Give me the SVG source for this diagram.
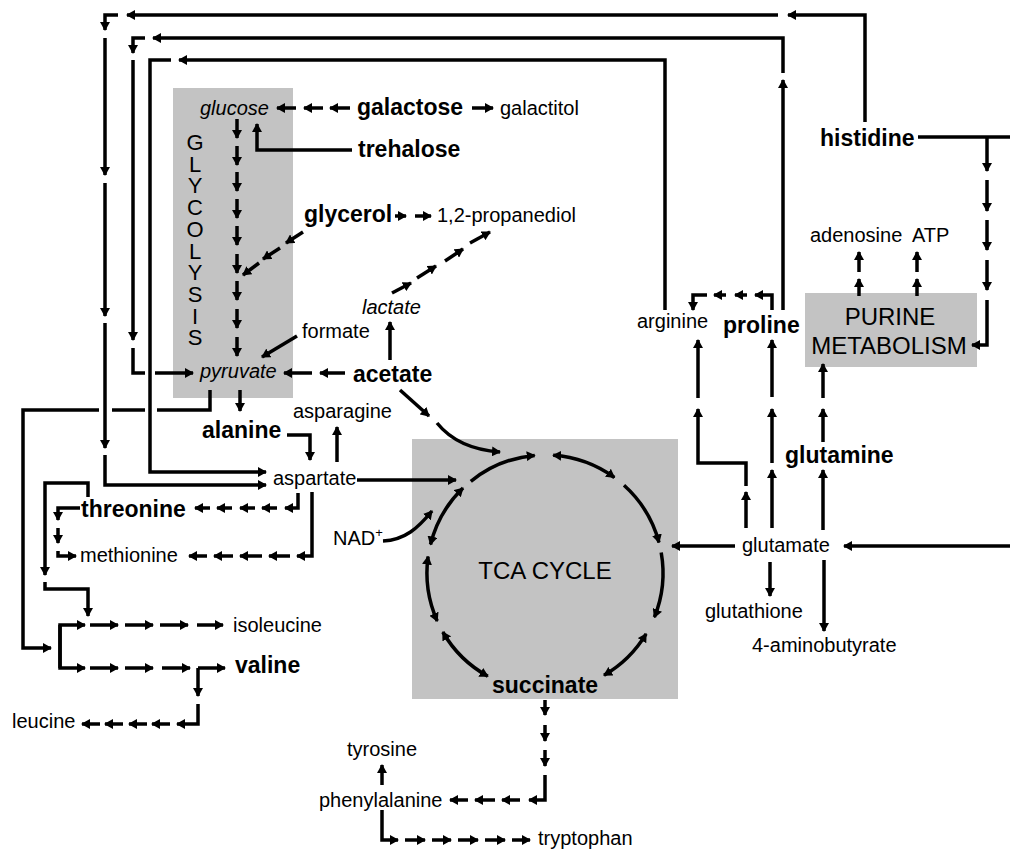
<svg xmlns="http://www.w3.org/2000/svg" width="1010" height="851" viewBox="0 0 1010 851">
<style>
.c{stroke:#000;stroke-width:3.5;fill:none}
.a{marker-end:url(#ah)}
.d{marker-start:url(#ah);marker-end:url(#ah)}
.box{fill:#c3c3c3}
text{font-family:"Liberation Sans",Arial,sans-serif;font-size:20px;fill:#000}
.b{font-weight:bold;font-size:23px}
.i{font-style:italic}
.L{font-size:24px}
.m{text-anchor:middle}
</style>
<defs>
<marker id="ah" viewBox="0 0 9 10" refX="8" refY="5" markerWidth="9" markerHeight="10" markerUnits="userSpaceOnUse" orient="auto-start-reverse"><path d="M0,0 L9,5 L0,10 z" fill="#000"/></marker>
</defs>
<rect width="1010" height="851" fill="#fff"/>
<g id="glycolysis"><rect class="box" x="173" y="88" width="120" height="310"/>
<text class="m" x="195" y="150" font-size="22" style="font-size:22px"><tspan x="195">G</tspan><tspan x="195" dy="21.7">L</tspan><tspan x="195" dy="21.7">Y</tspan><tspan x="195" dy="21.7">C</tspan><tspan x="195" dy="21.7">O</tspan><tspan x="195" dy="21.7">L</tspan><tspan x="195" dy="21.7">Y</tspan><tspan x="195" dy="21.7">S</tspan><tspan x="195" dy="21.7">I</tspan><tspan x="195" dy="21.7">S</tspan></text></g>
<g id="tca"><rect class="box" x="412" y="439" width="266" height="260"/><text class="L m" x="545" y="579">TCA CYCLE</text></g>
<g id="purine"><rect class="box" x="805" y="293" width="172" height="74"/><text class="L m" x="890" y="325">PURINE</text><text class="L m" x="889" y="354">METABOLISM</text></g>
<g id="connectors" class="c">
<!-- top loops -->
<path class="a" d="M865,122 V15 H788"/>
<path class="a" d="M778,15 H127"/>
<path class="a" d="M118,15 H105 V30"/>
<path class="a" d="M105,38 V175"/>
<path class="a" d="M105,183 V316"/>
<path class="a" d="M105,323 V448"/>
<path class="a" d="M105,455 V485 H266"/>
<path class="a" d="M783,310 V80"/>
<path class="a" d="M783,73 V38 H153"/>
<path class="a" d="M145,38 H133 V53"/>
<path class="a" d="M133,60 V340"/>
<path d="M133,348 V373 H145"/>
<path class="a" d="M155,373 H193"/>
<path class="a" d="M665,310 V60 H179"/>
<path class="a" d="M171,60 H150 V472 H266"/>
<path d="M210,390 V410 H157"/>
<path d="M145,410 H112"/>
<path class="a" d="M99,410 H23 V648 H51"/>
<!-- glycolysis -->
<path class="a" d="M237,119 V138"/>
<path class="a" d="M237,146 V165"/>
<path class="a" d="M237,172 V191"/>
<path class="a" d="M237,199 V218"/>
<path class="a" d="M237,226 V245"/>
<path class="a" d="M237,254 V273"/>
<path class="a" d="M237,281 V300"/>
<path class="a" d="M237,309 V328"/>
<path class="a" d="M237,337 V356"/>
<path class="a" d="M296,108 H277"/>
<path class="a" d="M323,108 H304"/>
<path class="a" d="M350,108 H330"/>
<path class="a" d="M472,108 H493"/>
<path class="a" d="M352,150 H257 V124"/>
<path class="a" d="M303,232 L286,243"/>
<path class="a" d="M280,248 L263,259"/>
<path class="a" d="M259,263 L243,275"/>
<path class="a" d="M395,216 H406"/>
<path class="a" d="M415,216 H431"/>
<path class="a" d="M392,293 L411,283"/>
<path class="a" d="M417,278 L436,266"/>
<path class="a" d="M445,261 L463,249"/>
<path class="a" d="M470,243 L490,232"/>
<path class="a" d="M390,360 V322"/>
<path class="a" d="M297,336 L262,357"/>
<path class="a" d="M312,373 H284"/>
<path class="a" d="M345,373 H320"/>
<path class="a" d="M240,390 V411"/>
<path class="a" d="M287,435 H310 V460"/>
<path class="a" d="M337,462 V427"/>
<path class="a" d="M357,480 H456"/>
<path class="a" d="M400,390 L429,416"/>
<path class="a" d="M437,423 Q458,449 500,452"/>
<path class="a" d="M383,541 C405,540 418,528 432,511"/>
<!-- TCA cycle -->
<path class="a" d="M470.8,481.3 A118,118 0 0 1 534.7,455.4"/>
<path class="d" d="M553.2,455.3 A118,118 0 0 1 614.4,477.5"/>
<path class="a" d="M624,485.3 A118,118 0 0 1 659,542.5"/>
<path class="a" d="M661.2,552.5 A118,118 0 0 1 654.4,617.2"/>
<path class="d" d="M646.1,633.8 A118,118 0 0 1 604,675.2"/>
<path class="d" d="M487.8,676.2 A118,118 0 0 1 442.8,632"/>
<path class="d" d="M437.2,621 A118,118 0 0 1 428.1,556.6"/>
<path class="d" d="M430.5,544.5 A118,118 0 0 1 463,488.1"/>
<!-- aspartate family -->
<path class="a" d="M298,493 V508 H285"/>
<path class="a" d="M277,508 H262"/>
<path class="a" d="M255,508 H240"/>
<path class="a" d="M232,508 H217"/>
<path class="a" d="M210,508 H195"/>
<path class="a" d="M312,492 V556 H297"/>
<path class="a" d="M290,556 H269"/>
<path class="a" d="M262,556 H240"/>
<path class="a" d="M233,556 H214"/>
<path class="a" d="M207,556 H189"/>
<path class="a" d="M80,508 H58 V520"/>
<path class="a" d="M58,528 V543"/>
<path class="a" d="M58,551 V556 H76"/>
<path class="a" d="M88,497 V483 H45 V575"/>
<path class="a" d="M45,582 V589 H88 V616"/>
<path class="a" d="M60,668 V625 H85"/>
<path class="a" d="M90,625 H118"/>
<path class="a" d="M125,625 H153"/>
<path class="a" d="M160,625 H188"/>
<path class="a" d="M197,625 H223"/>
<path class="a" d="M60,625 V668 H85"/>
<path class="a" d="M90,668 H118"/>
<path class="a" d="M125,668 H153"/>
<path class="a" d="M162,668 H190"/>
<path class="a" d="M198,668 H225"/>
<path class="a" d="M198,668 V696"/>
<path class="a" d="M198,704 V724 H177"/>
<path class="a" d="M170,724 H152"/>
<path class="a" d="M147,724 H129"/>
<path class="a" d="M123,724 H105"/>
<path class="a" d="M100,724 H82"/>
<!-- succinate -->
<path class="a" d="M545,700 V715"/>
<path class="a" d="M545,725 V741"/>
<path class="a" d="M545,750 V766"/>
<path class="a" d="M545,775 V800 H529"/>
<path class="a" d="M520,800 H502"/>
<path class="a" d="M495,800 H475"/>
<path class="a" d="M468,800 H450"/>
<path class="a" d="M382,785 V765"/>
<path class="a" d="M382,810 V840 H398"/>
<path class="a" d="M405,840 H425"/>
<path class="a" d="M432,840 H451"/>
<path class="a" d="M458,840 H478"/>
<path class="a" d="M485,840 H505"/>
<path class="a" d="M512,840 H530"/>
<!-- glutamate family -->
<path class="a" d="M735,546 H672"/>
<path class="a" d="M1010,546 H844"/>
<path class="a" d="M770,562 V596"/>
<path class="a" d="M824,560 V631"/>
<path class="a" d="M746,528 V492"/>
<path class="a" d="M746,486 V463 H698 V409"/>
<path class="a" d="M698,398 V340"/>
<path class="a" d="M772,528 V470"/>
<path class="a" d="M772,463 V409"/>
<path class="a" d="M772,397 V340"/>
<path class="a" d="M823,530 V470"/>
<path class="a" d="M823,442 V409"/>
<path class="a" d="M823,398 V364"/>
<path class="a" d="M772,310 V295 H755"/>
<path class="a" d="M747,295 H735"/>
<path class="a" d="M726,295 H714"/>
<path class="a" d="M707,295 H693 V310"/>
<!-- purine -->
<path class="a" d="M859,296 V279"/>
<path class="a" d="M859,272 V252"/>
<path class="a" d="M917,296 V279"/>
<path class="a" d="M917,272 V252"/>
<path d="M918,137 H1010"/>
<path class="a" d="M987,137 V171"/>
<path class="a" d="M987,180 V211"/>
<path class="a" d="M987,220 V250"/>
<path class="a" d="M987,260 V290"/>
<path class="a" d="M987,300 V345 H972"/>
</g>
<g id="glucose"><text class="i" x="200" y="115">glucose</text></g>
<g id="galactose"><text class="b" x="357" y="115">galactose</text></g>
<g id="galactitol"><text x="500" y="115">galactitol</text></g>
<g id="trehalose"><text class="b" x="358" y="157">trehalose</text></g>
<g id="glycerol"><text class="b" x="304" y="222">glycerol</text></g>
<g id="propanediol"><text x="437" y="222">1,2-propanediol</text></g>
<g id="lactate"><text class="i" x="362" y="314">lactate</text></g>
<g id="formate"><text x="302" y="338">formate</text></g>
<g id="acetate"><text class="b" x="353" y="382">acetate</text></g>
<g id="pyruvate"><text class="i" x="200" y="378">pyruvate</text></g>
<g id="asparagine"><text x="293" y="418">asparagine</text></g>
<g id="alanine"><text class="b" x="202" y="438">alanine</text></g>
<g id="aspartate"><text x="273" y="485">aspartate</text></g>
<g id="threonine"><text class="b" x="81" y="517">threonine</text></g>
<g id="methionine"><text x="80" y="562">methionine</text></g>
<g id="isoleucine"><text x="233" y="632">isoleucine</text></g>
<g id="valine"><text class="b" x="235" y="673">valine</text></g>
<g id="leucine"><text x="12" y="728">leucine</text></g>
<g id="nad"><text x="333" y="545">NAD<tspan dy="-8" style="font-size:13px">+</tspan></text></g>
<g id="succinate"><text class="b" x="492" y="693">succinate</text></g>
<g id="tyrosine"><text x="347" y="756">tyrosine</text></g>
<g id="phenylalanine"><text x="319" y="807">phenylalanine</text></g>
<g id="tryptophan"><text x="538" y="845">tryptophan</text></g>
<g id="arginine"><text x="637" y="328">arginine</text></g>
<g id="proline"><text class="b" x="723" y="333">proline</text></g>
<g id="adenosine"><text x="810" y="242">adenosine</text></g>
<g id="atp"><text x="912" y="242">ATP</text></g>
<g id="histidine"><text class="b" x="820" y="146">histidine</text></g>
<g id="glutamine"><text class="b" x="785" y="463">glutamine</text></g>
<g id="glutamate"><text x="742" y="552">glutamate</text></g>
<g id="glutathione"><text x="705" y="618">glutathione</text></g>
<g id="aminobutyrate"><text x="752" y="652">4-aminobutyrate</text></g>
</svg>
